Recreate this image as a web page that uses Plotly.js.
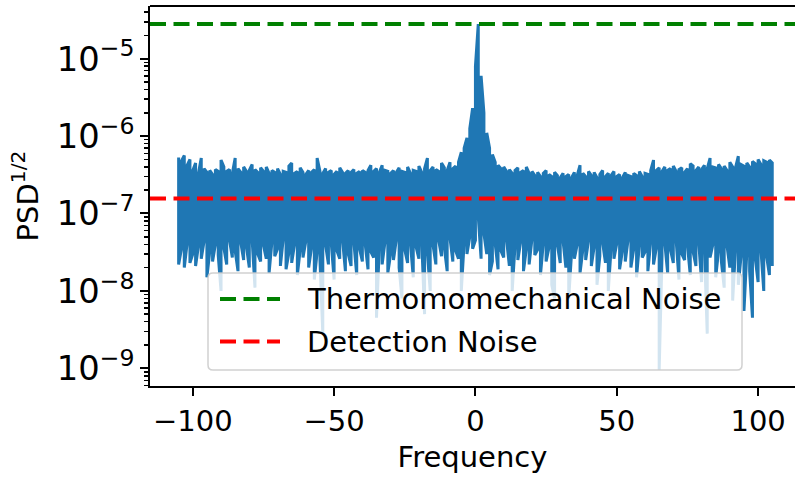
<!DOCTYPE html>
<html>
<head>
<meta charset="utf-8">
<script src="https://cdn.plot.ly/plotly-3.0.1.min.js"></script>
<style>html,body{margin:0;padding:0;background:#fff;}#chart{width:795px;height:481px;}</style>
</head>
<body>
<div id="chart"></div>
<script>
// Frequency bins
const freq = [
-105,-104,-103,-102,-101,-100,-99,-98,-97,-96,
-95,-94,-93,-92,-91,-90,-89,-88,-87,-86,
-85,-84,-83,-82,-81,-80,-79,-78,-77,-76,
-75,-74,-73,-72,-71,-70,-69,-68,-67,-66,
-65,-64,-63,-62,-61,-60,-59,-58,-57,-56,
-55,-54,-53,-52,-51,-50,-49,-48,-47,-46,
-45,-44,-43,-42,-41,-40,-39,-38,-37,-36,
-35,-34,-33,-32,-31,-30,-29,-28,-27,-26,
-25,-24,-23,-22,-21,-20,-19,-18,-17,-16,
-15,-14,-13,-12,-11,-10,-9,-8,-7,-6,
-5,-4,-3,-2,-1,0,1,2,3,4,5,6,
7,8,9,10,11,12,13,14,15,16,
17,18,19,20,21,22,23,24,25,26,
27,28,29,30,31,32,33,34,35,36,
37,38,39,40,41,42,43,44,45,46,
47,48,49,50,51,52,53,54,55,56,
57,58,59,60,61,62,63,64,65,66,
67,68,69,70,71,72,73,74,75,76,
77,78,79,80,81,82,83,84,85,86,
87,88,89,90,91,92,93,94,95,96,
97,98,99,100,101,102,103,104,105
];
// Upper excursions of PSD^1/2 in each bin (units of 1e-7)
const psdHigh = [
5.3,4.8,5.6,4.2,5.0,3.6,4.5,3.3,5.2,3.8,
3.4,3.6,3.2,3.7,3.5,4.9,4.0,3.5,3.7,3.3,
5.2,3.8,3.4,4.0,3.5,3.6,4.3,3.7,3.4,3.9,
3.5,4.0,3.3,3.6,3.4,3.8,3.2,3.5,3.4,4.1,
4.5,3.3,3.5,3.9,3.4,3.2,3.6,3.4,3.7,5.2,
3.5,3.3,3.8,3.4,3.6,3.2,3.5,3.9,3.4,3.3,
3.6,3.4,3.7,3.3,3.5,3.6,3.4,3.6,4.2,3.5,
3.8,3.4,4.2,3.6,3.5,3.3,3.6,3.4,3.9,3.5,
3.4,4.0,3.3,3.6,3.5,4.1,3.4,3.8,5.2,3.6,
4.0,3.7,3.5,4.5,3.9,3.6,4.6,3.8,4.1,4.6,
6.2,7.0,9.5,12.5,23,80,280,60,20,11,7.0,5.8,
4.6,4.2,3.8,4.0,3.5,3.7,3.3,3.6,3.9,3.4,
3.6,4.0,3.3,3.5,3.1,3.4,3.0,3.3,3.6,3.2,
3.0,3.4,3.1,2.9,3.3,3.0,3.2,2.9,3.4,3.1,
4.2,3.3,3.0,3.5,3.1,3.4,2.9,3.2,3.6,3.0,
3.3,3.1,3.5,3.0,3.2,2.9,3.4,3.1,3.0,3.3,
3.1,3.5,3.0,3.3,3.2,3.6,4.9,3.6,3.9,3.5,
4.0,3.6,3.8,4.1,3.5,3.7,3.9,3.4,3.8,4.4,
4.1,3.6,4.0,3.7,4.2,3.8,5.2,4.0,3.9,4.3,
3.8,4.1,3.6,4.6,4.0,3.9,5.5,4.3,4.1,4.5,
4.0,4.7,4.4,5.0,4.3,4.8,4.6,4.9,4.5
];
// Lower excursions of PSD^1/2 in each bin (units of 1e-8)
const psdLow = [
2.2,3.5,2.0,4.1,2.3,3.0,2.1,3.8,2.6,4.4,
1.5,3.2,2.4,4.0,2.9,1.0,3.6,2.2,4.5,2.7,
3.3,1.8,4.2,2.5,3.7,2.0,4.6,1.1,3.0,2.4,
3.9,2.6,1.7,4.3,2.8,3.5,2.1,4.7,1.9,3.1,
2.3,4.0,1.6,3.4,2.7,4.4,2.0,3.6,1.4,3.2,
2.5,0.28,3.9,2.2,4.1,1.4,3.3,2.6,4.5,1.8,
3.0,2.1,4.2,1.6,3.5,2.4,4.0,1.9,3.2,2.7,
0.45,3.8,2.2,4.3,1.7,3.0,2.5,4.6,2.0,0.8,
3.4,2.3,4.1,1.5,3.7,2.6,4.4,0.5,3.1,1.0,
3.9,2.2,4.5,2.8,3.6,1.8,4.8,2.4,3.3,2.6,
1.0,4.2,3.0,5.0,3.5,4.5,9.0,2.6,5.5,3.0,1.6,
2.4,4.0,1.9,3.3,2.7,4.6,2.1,1.0,3.8,2.5,
4.3,1.8,3.5,2.2,4.7,2.9,3.4,1.6,4.1,2.4,
3.6,1.2,0.8,3.9,2.3,4.4,2.0,0.8,3.1,2.6,
4.0,1.7,3.4,2.5,4.5,2.1,3.7,1.2,2.8,4.2,
2.3,1.0,3.6,2.6,4.1,1.9,3.3,2.4,4.6,2.0,
3.5,1.5,4.0,2.7,3.2,1.8,4.3,2.2,3.6,0.095,
2.8,4.1,1.7,3.4,2.3,4.5,1.4,3.0,2.5,3.9,
1.6,3.2,2.1,4.2,1.3,3.6,0.28,2.7,4.0,1.5,
3.3,2.4,1.1,3.8,2.0,0.75,3.5,1.2,2.9,0.55,
3.1,1.8,0.45,2.6,1.3,3.4,1.0,2.8,1.6,2.1
];
const thermoLevel = 2.8e-5;
const detectLevel = 1.56e-7;
const seriesNames = ['Thermomomechanical Noise', 'Detection Noise'];
const xTicks = [-100, -50, 0, 50, 100];
const xRange = [-115.13, 113.05];

// Build the PSD line (each bin swings between its high and low excursion)
const px = [], py = [];
for (let i = 0; i < freq.length; i++) {
  const hi = psdHigh[i] * 1e-7, lo = psdLow[i] * 1e-8;
  if (i % 2 === 0) { px.push(freq[i], freq[i]); py.push(hi, lo); }
  else { px.push(freq[i], freq[i]); py.push(lo, hi); }
}

const FONT = 'DejaVu Sans';
const FS = 29;
const DASH = '16px,7.5px';

const traces = [
  { x: px, y: py, mode: 'lines', line: { color: '#1f77b4', width: 3 }, showlegend: false, hoverinfo: 'skip' },
  { x: xRange, y: [thermoLevel, thermoLevel], mode: 'lines', name: seriesNames[0],
    line: { color: '#008000', width: 4, dash: DASH }, showlegend: false },
  { x: xRange, y: [detectLevel, detectLevel], mode: 'lines', name: seriesNames[1],
    line: { color: '#ff0000', width: 4, dash: DASH }, showlegend: false }
];

// legend box geometry (paper coords)
const W = 645, H = 380;
const lx0 = 58 / W, lx1 = 592 / W, ly1 = 113 / H, ly0 = 16 / H;
const rx = 5 / W, ry = 5 / H;
const boxPath = `M ${lx0 + rx},${ly0} L ${lx1 - rx},${ly0} Q ${lx1},${ly0} ${lx1},${ly0 + ry} L ${lx1},${ly1 - ry} Q ${lx1},${ly1} ${lx1 - rx},${ly1} L ${lx0 + rx},${ly1} Q ${lx0},${ly1} ${lx0},${ly1 - ry} L ${lx0},${ly0 + ry} Q ${lx0},${ly0} ${lx0 + rx},${ly0} Z`;
const row1 = (386 - 299) / H, row2 = (386 - 341.5) / H;
const sx0 = 70 / W, sx1 = 130 / W, tx = 155 / W;

const layout = {
  width: 795, height: 481,
  margin: { l: 150, r: 0, t: 6, b: 95 },
  paper_bgcolor: '#ffffff', plot_bgcolor: '#ffffff',
  font: { family: FONT, size: FS, color: '#000' },
  showlegend: false,
  xaxis: {
    range: xRange, tickvals: xTicks, ticks: 'outside', ticklen: 8, tickwidth: 2, tickcolor: '#000',
    showline: true, linewidth: 2, linecolor: '#000', showgrid: false, zeroline: false,
    tickfont: { family: FONT, size: FS, color: '#000' },
    title: { text: 'Frequency', font: { family: FONT, size: FS, color: '#000' }, standoff: 10 }
  },
  yaxis: {
    type: 'log', range: [-9.229, -4.319], dtick: 1, exponentformat: 'power', showexponent: 'all',
    ticks: 'outside', ticklen: 8, tickwidth: 2, tickcolor: '#000',
    minor: { ticks: 'outside', ticklen: 4.5, tickwidth: 1.5, tickcolor: '#000', dtick: 'D1', showgrid: false },
    showline: true, linewidth: 2, linecolor: '#000', showgrid: false, zeroline: false,
    tickfont: { family: FONT, size: 27, color: '#000' },
    title: { text: 'PSD<sup>1/2</sup>', font: { family: FONT, size: FS, color: '#000' }, standoff: 10 }
  },
  shapes: [
    { type: 'line', xref: 'paper', yref: 'paper', x0: 0, x1: 1, y0: 1, y1: 1, line: { color: '#000', width: 2 } },
    { type: 'path', xref: 'paper', yref: 'paper', path: boxPath, layer: 'above',
      fillcolor: 'rgba(255,255,255,0.8)', line: { color: 'rgba(204,204,204,0.9)', width: 1.5 } },
    { type: 'line', xref: 'paper', yref: 'paper', x0: sx0, x1: sx1, y0: row1, y1: row1, layer: 'above',
      line: { color: '#008000', width: 4, dash: DASH } },
    { type: 'line', xref: 'paper', yref: 'paper', x0: sx0, x1: sx1, y0: row2, y1: row2, layer: 'above',
      line: { color: '#ff0000', width: 4, dash: DASH } }
  ],
  annotations: [
    { xref: 'paper', yref: 'paper', x: tx, y: row1, xanchor: 'left', yanchor: 'middle', showarrow: false,
      text: seriesNames[0], font: { family: FONT, size: FS, color: '#000' } },
    { xref: 'paper', yref: 'paper', x: tx, y: row2, xanchor: 'left', yanchor: 'middle', showarrow: false,
      text: seriesNames[1], font: { family: FONT, size: FS, color: '#000' } }
  ]
};

Plotly.newPlot('chart', traces, layout, { staticPlot: true, displayModeBar: false });
</script>
</body>
</html>
